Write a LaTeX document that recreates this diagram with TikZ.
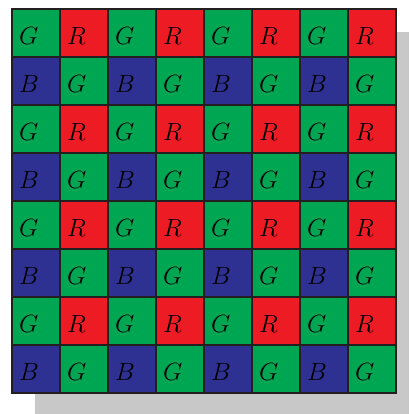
\documentclass[tikz,border=0pt]{standalone}
\usepackage{fontspec}
\definecolor{bayerG}{HTML}{00A651}
\definecolor{bayerR}{HTML}{ED1C24}
\definecolor{bayerB}{HTML}{2E3192}
\definecolor{gridline}{HTML}{231F20}
\definecolor{shadowgray}{HTML}{C8C8C9}
\tikzset{
  cell/.style={draw=gridline, line width=1.6pt, minimum width=48pt, minimum height=48pt, inner sep=0pt, outer sep=0pt},
  lbl/.style={anchor=base west, inner sep=0pt, font=\fontsize{25}{30}\selectfont}
}
\begin{document}
\begin{tikzpicture}[x=1pt,y=1pt]
\useasboundingbox (0,0) rectangle (409,414);
\fill[shadowgray] (35,0) rectangle (409,382);
\foreach \r in {0,...,7}{
  \foreach \c in {0,...,7}{
    \pgfmathtruncatemacro{\re}{mod(\r,2)}
    \pgfmathtruncatemacro{\ce}{mod(\c,2)}
    \ifnum\re=0
      \ifnum\ce=0 \def\bcol{bayerG}\def\bltr{G}\else \def\bcol{bayerR}\def\bltr{R}\fi
    \else
      \ifnum\ce=0 \def\bcol{bayerB}\def\bltr{B}\else \def\bcol{bayerG}\def\bltr{G}\fi
    \fi
    \node[cell, fill=\bcol] (cell-\r-\c) at (36+48*\c, 381-48*\r) {};
    \node[lbl] (txt-\r-\c) at ([xshift=7pt, yshift=-35.5pt]cell-\r-\c.north west) {$\bltr$};
  }
}
\end{tikzpicture}
\end{document}
